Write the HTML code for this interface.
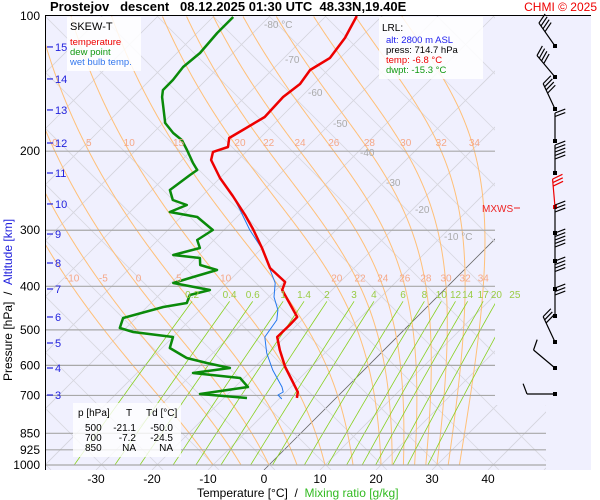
<!DOCTYPE html>
<html><head><meta charset="utf-8"><style>
body{margin:0;background:#fff;font-family:"Liberation Sans",Arial,sans-serif}
svg{display:block}
text{font-family:"Liberation Sans",Arial,sans-serif}
</style></head><body>
<svg id="c" width="600" height="500" viewBox="0 0 600 500">
<defs><clipPath id="clip"><polygon points="45,16 495,16 495,405 546,405 546,470 45,470"/></clipPath></defs>
<rect x="45" y="16" width="546" height="454" fill="#f0f0fe"/>
<g id="grid" clip-path="url(#clip)"></g>
<g id="lines"></g>
<g id="labels"></g>
<line x1="45" y1="15.5" x2="591" y2="15.5" stroke="#000"/>
<line x1="45.5" y1="16" x2="45.5" y2="470" stroke="#000"/>
<text x="50" y="11" font-size="13" font-weight="bold">Prostejov&#160;&#160;&#160;descent&#160;&#160;&#160;08.12.2025 01:30 UTC&#160;&#160;48.33N,19.40E</text>
<text x="597" y="11" font-size="12" fill="#ee0000" text-anchor="end">CHMI © 2025</text>
<g transform="translate(12,300) rotate(-90)"><text x="0" y="0" font-size="12" text-anchor="middle"><tspan fill="#000">Pressure [hPa]&#160;&#160;/&#160;&#160;</tspan><tspan fill="#2222dd">Altitude [km]</tspan></text></g>
<text x="197" y="497" font-size="12"><tspan>Temperature [°C]&#160;&#160;/&#160;&#160;</tspan><tspan fill="#33bb22">Mixing ratio [g/kg]</tspan></text>
<g>
<rect x="67" y="17" width="74" height="54" fill="#fff" opacity="0.85"/>
<text x="70" y="30" font-size="11">SKEW-T</text>
<text x="70" y="45" font-size="9.5" fill="#ee0000">temperature</text>
<text x="70" y="55" font-size="9.5" fill="#119911">dew point</text>
<text x="70" y="65" font-size="9.5" fill="#3377ee">wet bulb temp.</text>
</g>
<g>
<rect x="379" y="17" width="104" height="62" fill="#fff" opacity="0.85"/>
<text x="382" y="31" font-size="10">LRL:</text>
<text x="386" y="43" font-size="9.5" fill="#2222ee">alt: 2800 m ASL</text>
<text x="386" y="53" font-size="9.5">press: 714.7 hPa</text>
<text x="386" y="63" font-size="9.5" fill="#ee0000">temp: -6.8 °C</text>
<text x="386" y="73" font-size="9.5" fill="#119911">dwpt: -15.3 °C</text>
</g>
<g font-size="10">
<rect x="73" y="403" width="108" height="54" fill="#fff" opacity="0.8"/>
<text x="78" y="416">p [hPa]</text><text x="126" y="416">T</text><text x="146" y="416">Td [°C]</text>
<text x="85" y="431">500</text><text x="136" y="431" text-anchor="end">-21.1</text><text x="173" y="431" text-anchor="end">-50.0</text>
<text x="85" y="441">700</text><text x="136" y="441" text-anchor="end">-7.2</text><text x="173" y="441" text-anchor="end">-24.5</text>
<text x="85" y="451">850</text><text x="136" y="451" text-anchor="end">NA</text><text x="173" y="451" text-anchor="end">NA</text>
</g>
<text x="482" y="212" font-size="10" fill="#ee2222">MXWS</text>
<line x1="514" y1="208" x2="520" y2="208" stroke="#ee2222"/>
</svg>
<script>
const tempP=[100,111.9,124.0,131.9,141.7,151.5,167.9,179.4,186.9,195.8,200.8,209.3,229.5,251.7,277.5,298.1,328.6,364.1,391.2,407.6,468.1,487.7,518.7,554.5,605,646.7,687.6,709];
const tempT=[-64.5,-62.7,-61.8,-63.2,-62.5,-63.2,-62.9,-64.5,-65.5,-64.1,-65.9,-64.8,-60.0,-54.5,-48.9,-45.0,-40.0,-35.0,-29.8,-28.9,-21.4,-21.3,-21.4,-18.6,-14.6,-11.1,-7.9,-7.0];
const dewP=[100.5,109.1,120.9,129.9,138.8,146.2,151.5,173.1,182.2,188.9,198.8,212.5,220.3,226.0,244.1,256.9,263.6,273.2,280.3,299.6,315.4,328.6,340.6,345.9,358.6,367.9,381.3,393.2,407.6,418.2,435.7,444.7,470.6,495.3,505.6,518.7,548.9,577.7,592.7,608.1,623.9,640.1,670.4,694.9,709.2];
const dewT=[-86.4,-86.4,-85.9,-86.4,-85.9,-85.9,-84.8,-79.6,-76.4,-73.6,-70.9,-67.5,-65.5,-65.9,-66.8,-64.5,-61.1,-62.9,-57.1,-52.0,-53.0,-51.1,-54.6,-49.3,-48.0,-44.1,-47.1,-49.6,-41.8,-44.5,-43.6,-47.1,-52.3,-51.1,-48.0,-40.0,-38.6,-33.8,-29.3,-24.3,-30.0,-20.7,-17.7,-25.0,-15.9];
const wbP=[251.7,270.4,299.6,332.0,367.9,393.2,422.5,451.6,475.4,518.7,563.1,614.4,670.4,687.6,698.4,712.9];
const wbT=[-54.5,-50.7,-45.4,-39.5,-34.6,-31.4,-29.1,-26.1,-24.5,-23.6,-20.4,-16.3,-11.6,-10.5,-10.9,-9.5];
const isobars=[200,300,400,500,600,700,850,925,1000];
const pressureTicks=[100,200,300,400,500,600,700,850,925,1000];
const tempTicks=[-30,-20,-10,0,10,20,30,40];
const altKm=[15,14,13,12,11,10,9,8,7,6,5,4,3];
const altP=[117.2,138.1,161.9,191.8,223.7,262.2,305.9,354.9,405.5,468.1,534.9,608.1,698.4];
const thetaW=[-10,-5,0,5,10,15,20,22,24,26,28,30,32,34];
const mixRatios=[0.2,0.4,0.6,1,1.4,2,3,4,6,8,10,12,14,17,20,25];
const isoLabelT=[-80,-70,-60,-50,-40,-30,-20,-10];
const isoLabelY=[28,63,96,127,156,186,213,240];
const windY=[46,77,109,141,173,207,233,261,289,316,342,368,394];
const windAng=[-35,-40,-25,0,0,-5,0,0,0,0,-25,-50,-90];
const windBarbs=[4,4,4,2,5,3,3,5,4,3,3,1,1];

const NS='http://www.w3.org/2000/svg';
const yP=p=>16+195*Math.log(p/100);
const xT=(T,y)=>734-y+5.6*T;
function el(tag,attrs,parent){const e=document.createElementNS(NS,tag);for(const k in attrs)e.setAttribute(k,attrs[k]);parent.appendChild(e);return e;}
const grid=document.getElementById('grid'),lines=document.getElementById('lines'),labels=document.getElementById('labels');

for(let T=-160;T<=60;T+=10){
  const a=el('line',{x1:xT(T,470),y1:470,x2:xT(T,16),y2:16,stroke:T===0?'#666':'#d4d4dc','stroke-width':0.8},grid);
  
}
for(let k=-10;k<=20;k++){
  const x0=45+k*56;
  const b=el('line',{x1:x0,y1:16,x2:x0+454,y2:470,stroke:'#d8d8e0','stroke-width':0.8},grid);
  
}
function es(T){return 6.112*Math.exp(17.67*T/(T+243.5));}
function moist(tw){
  const pts=[];let T=tw+273.15;let p=1000;
  const Rd=287,cp=1005,Lv=2.5e6,eps=0.622;
  while(p>=100){
    const y=yP(p);pts.push([xT(T-273.15,y),y]);
    const dlnp=-0.01;
    const rs=eps*es(T-273.15)/(p-es(T-273.15));
    const dTdlnp=(Rd*T+Lv*rs)/(cp+Lv*Lv*rs*eps/(Rd*T*T));
    T+=dTdlnp*dlnp;p*=Math.exp(dlnp);
  }
  return pts;
}
const moistPts={};
thetaW.forEach(tw=>{
  const pts=moist(tw);moistPts[tw]=pts;
  const m=el('polyline',{points:pts.map(q=>q.join(',')).join(' '),fill:'none',stroke:'#ffc078','stroke-width':1},grid);
  
});
function xAtY(pts,y){for(let i=1;i<pts.length;i++){if((pts[i-1][1]-y)*(pts[i][1]-y)<=0){const f=(y-pts[i-1][1])/(pts[i][1]-pts[i-1][1]);return pts[i-1][0]+f*(pts[i][0]-pts[i-1][0]);}}return null;}
function tdFromW(w,p){const e=w*p/(622+w);const l=Math.log(e/6.112);return 243.5*l/(17.67-l);}
mixRatios.forEach(w=>{
  const pts=[];for(let p=1000;p>=432;p-=8){const y=yP(p);pts.push([xT(tdFromW(w,p),y),y]);}
  const m=el('polyline',{points:pts.map(q=>q.join(',')).join(' '),fill:'none',stroke:'#88d020','stroke-width':0.8},grid);
  
  const x=pts[pts.length-1][0];
  const t=el('text',{x:x,y:298,'font-size':10,fill:'#99cc44','text-anchor':'middle'},labels);t.textContent=String(w);
  
});
isobars.forEach(p=>{
  const y=yP(p);const l=el('line',{x1:45,y1:y,x2:p>=850?546:495,y2:y,stroke:'#a8a8a8','stroke-width':1.2},lines);
  
});
thetaW.forEach(tw=>{
  [[yP(200)-5,tw>=0],[yP(400)-5,tw!==15]].forEach(([yy,show])=>{
    if(!show)return;const x=xAtY(moistPts[tw],yy+5);if(x===null||x<48||x>492)return;
    const t=el('text',{x:x,y:yy,'font-size':10,fill:'#f5a888','text-anchor':'middle'},labels);t.textContent=String(tw);
    
  });
});
isoLabelT.forEach((T,i)=>{
  const y=isoLabelY[i];const t=el('text',{x:xT(T,y)+6,y:y,'font-size':10,fill:'#aaaaaa'},labels);
  t.textContent=(T===-80||T===-10)?T+' °C':String(T);
  
});
function profile(P,T,color,w,name){
  const pts=P.map((p,i)=>{const y=yP(p);return xT(T[i],y).toFixed(1)+','+y.toFixed(1);}).join(' ');
  const pl=el('polyline',{points:pts,fill:'none',stroke:color,'stroke-width':w,'stroke-linejoin':'round'},lines);
  
}
profile(dewP,dewT,'#0a8a0a',2.5,'dew-point-line');
profile(wbP,wbT,'#2277ee',1,'wet-bulb-line');
profile(tempP,tempT,'#ee0000',2.5,'temperature-line');
pressureTicks.forEach(p=>{
  const t=el('text',{x:40,y:yP(p)+4,'font-size':12,'text-anchor':'end'},labels);t.textContent=String(p);
  
});
tempTicks.forEach(T=>{
  const t=el('text',{x:264+5.6*T,y:483,'font-size':12,'text-anchor':'middle'},labels);t.textContent=String(T);
  
});
altKm.forEach((k,i)=>{
  const y=yP(altP[i]);
  const l=el('line',{x1:47,y1:y,x2:53,y2:y,stroke:'#2222dd','stroke-width':1.2},labels);
  
  const t=el('text',{x:55,y:y+4,'font-size':11,fill:'#2222dd'},labels);t.textContent=String(k);
  
});
windY.forEach((y,i)=>{
  const a=windAng[i]*Math.PI/180;const L=28;const bx=555;
  const tx=bx+Math.sin(a)*L,ty=y-Math.cos(a)*L;
  const col=i===5?'#ee0000':'#000';
  const g=el('g',{},lines);
  
  el('line',{x1:bx,y1:y,x2:tx,y2:ty,stroke:col,'stroke-width':1.2},g);
  el('rect',{x:bx-2,y:y-2,width:4,height:4,fill:col},g);
  for(let b=0;b<windBarbs[i];b++){
    const f=b*3.5;const sx=tx-Math.sin(a)*f,sy=ty+Math.cos(a)*f;
    const ba=a+Math.PI/2.6;
    el('line',{x1:sx,y1:sy,x2:sx+Math.sin(ba)*11,y2:sy-Math.cos(ba)*11,stroke:col,'stroke-width':1.2},g);
  }
});
</script>
</body></html>
